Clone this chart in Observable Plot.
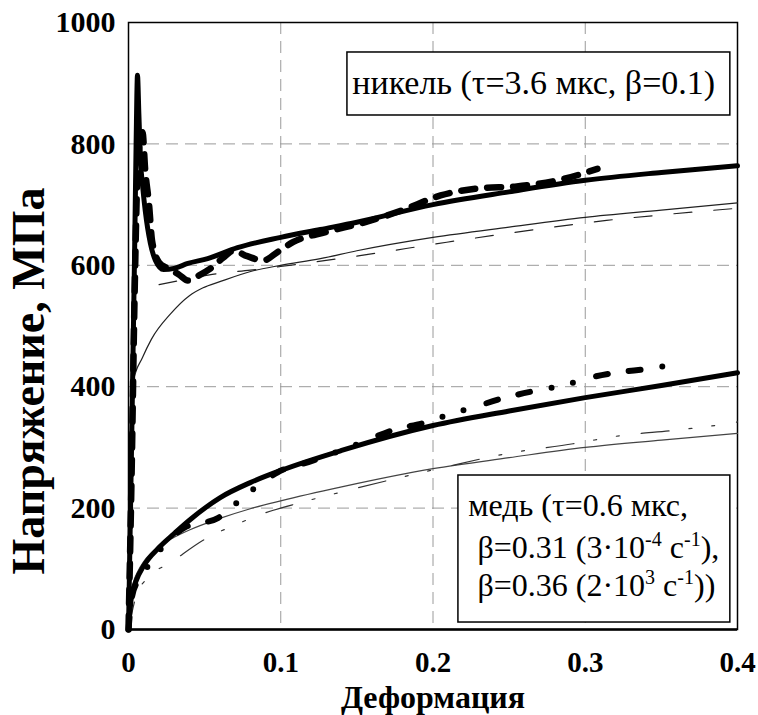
<!DOCTYPE html>
<html><head><meta charset="utf-8">
<script src="https://cdn.jsdelivr.net/npm/d3@7"></script>
<script src="https://cdn.jsdelivr.net/npm/@observablehq/plot@0.6"></script>
<style>
body{margin:0;background:#fff}
#chart svg, #chart svg text, #chart svg tspan{font-family:"Liberation Serif","Tinos","Times New Roman","DejaVu Serif",serif !important}
</style>
</head><body><div id="chart"></div>
<script>
// ---- axes ----
const xTicks = [0, 0.1, 0.2, 0.3, 0.4];
const xTickLabels = ["0", "0.1", "0.2", "0.3", "0.4"];
const yTicks = [0, 200, 400, 600, 800, 1000];
const yTickLabels = ["0", "200", "400", "600", "800", "1000"];
const xGrid = [0.1, 0.2, 0.3];
const yGrid = [200, 400, 600, 800];
const xLabel = "Деформация";
const yLabel = "Напряжение, МПа";
const niLegend = "никель (τ=3.6 мкс, β=0.1)";
// copper legend lines as [text, isSuperscript] segments
const cuLegend = [
  [["медь (τ=0.6 мкс,", false]],
  [["β=0.31 (3·10", false], ["-4", true], [" с", false], ["-1", true], ["),", false]],
  [["β=0.36 (2·10", false], ["3", true], [" с", false], ["-1", true], ["))", false]]
];

// ---- nickel: thick solid ----
const niThickX = [0, 0.002, 0.004, 0.005, 0.0059, 0.0068, 0.0079, 0.0095, 0.011, 0.0144, 0.0177, 0.023, 0.03, 0.039, 0.052, 0.0716, 0.1, 0.126, 0.15, 0.2, 0.25, 0.3, 0.35, 0.4];
const niThickY = [0, 300, 620, 800, 913, 850, 773, 725, 690, 636, 608, 593, 595, 603, 611, 629, 646, 659, 671, 700, 721, 740, 753, 764];
// ---- nickel: thick dashed (experiment) ----
const niExpX = [0, 0.002, 0.004, 0.006, 0.0075, 0.0092, 0.011, 0.0135, 0.0155, 0.02, 0.0256, 0.033, 0.039, 0.046, 0.054, 0.062, 0.069, 0.078, 0.0886, 0.098, 0.108, 0.13, 0.154, 0.179, 0.205, 0.231, 0.255, 0.282, 0.308];
const niExpY = [0, 250, 550, 760, 805, 819, 756, 700, 640, 605, 595, 585, 575, 583, 595, 612, 624, 615, 608, 622, 638, 655, 670, 690, 715, 727, 730, 740, 759];
// ---- nickel: thin solid ----
const niThinX = [0, 0.0015, 0.0033, 0.0092, 0.015, 0.0276, 0.04, 0.049, 0.06, 0.082, 0.1, 0.126, 0.15, 0.2, 0.25, 0.3, 0.35, 0.4];
const niThinY = [0, 380, 410, 448, 478, 520, 550, 563, 573, 591, 600, 611, 624, 646, 663, 679, 691, 703];
// ---- nickel: thin dashed ----
const niThinDashX = [0.02, 0.04, 0.058, 0.08, 0.1, 0.152, 0.209, 0.262, 0.314, 0.35, 0.4];
const niThinDashY = [568, 578, 586, 592, 598, 616, 638, 657, 674, 683, 694];

// ---- copper: thick solid ----
const cuThickX = [0, 0.002, 0.005, 0.01, 0.02, 0.03, 0.04, 0.06, 0.08, 0.1, 0.14, 0.2, 0.25, 0.3, 0.35, 0.4];
const cuThickY = [0, 55, 80, 105, 135, 158, 180, 217, 242, 262, 295, 336, 360, 382, 402, 423];
// ---- copper: thick dash-dot (experiment) ----
const cuExpX = [0, 0.002, 0.006, 0.0144, 0.023, 0.037, 0.059, 0.0735, 0.085, 0.098, 0.121, 0.156, 0.173, 0.195, 0.213, 0.2265, 0.246, 0.2686, 0.2856, 0.3, 0.32, 0.343, 0.361];
const cuExpY = [0, 50, 80, 109, 138, 168, 184, 214, 237, 259, 278, 311, 328, 341, 356, 366, 381, 394, 402, 413, 423, 430, 438];
// ---- copper: thin solid ----
const cuThinX = [0, 0.001, 0.003, 0.006, 0.01, 0.02, 0.03, 0.04, 0.06, 0.08, 0.1, 0.14, 0.2, 0.25, 0.3, 0.35, 0.4];
const cuThinY = [0, 40, 75, 95, 112, 137, 152, 164, 183, 199, 212, 235, 265, 283, 300, 312, 323];
// ---- copper: thin dash-dot ----
const cuThinDashX = [0, 0.005, 0.013, 0.0276, 0.049, 0.0735, 0.0886, 0.113, 0.139, 0.207, 0.249, 0.292, 0.325, 0.358, 0.393, 0.4];
const cuThinDashY = [0, 55, 86, 110, 147, 176, 191, 209, 226, 267, 290, 306, 320, 328, 339, 342];

const zip = (xs, ys) => xs.map((x, i) => ({x, y: ys[i]}));
const font = "Liberation Serif, Tinos, Times New Roman, DejaVu Serif, serif";
const cuPlain = cuLegend.map(line => line.map(s => s[0]).join(""));

const chart = Plot.plot({
  width: 758, height: 715,
  marginLeft: 128, marginRight: 21, marginTop: 22, marginBottom: 86,
  style: {fontFamily: font, background: "#fff", color: "#000"},
  x: {domain: [0, 0.4]},
  y: {domain: [0, 1000]},
  marks: [
    Plot.gridX(xGrid, {stroke: "#9a9a9a", strokeOpacity: 1, strokeDasharray: "12,7"}),
    Plot.gridY(yGrid, {stroke: "#9a9a9a", strokeOpacity: 1, strokeDasharray: "12,7"}),
    Plot.axisX(xTicks, {tickSize: 0, tickPadding: 22, tickFormat: d => xTickLabels[xTicks.indexOf(d)], fontSize: 29, fontWeight: "bold", fontFamily: font, label: null}),
    Plot.axisY(yTicks, {tickSize: 0, tickPadding: 13, tickFormat: d => yTickLabels[yTicks.indexOf(d)], fontSize: 30, fontWeight: "bold", fontFamily: font, label: null}),
    Plot.frame({stroke: "#000", strokeWidth: 1.5}),
    Plot.ruleY([0], {stroke: "#000", strokeWidth: 2.5}),
    // thin lines
    Plot.line(zip(niThinX, niThinY), {x: "x", y: "y", stroke: "#222", strokeWidth: 1.2, curve: "monotone-x"}),
    Plot.line(zip(niThinDashX, niThinDashY), {x: "x", y: "y", stroke: "#222", strokeWidth: 1.2, strokeDasharray: "18,22", curve: "monotone-x"}),
    Plot.line(zip(cuThinX, cuThinY), {x: "x", y: "y", stroke: "#444", strokeWidth: 1.2, curve: "monotone-x"}),
    Plot.line(zip(cuThinDashX, cuThinDashY), {x: "x", y: "y", stroke: "#333", strokeWidth: 1.2, strokeDasharray: "28,20,3,20,3,22", curve: "monotone-x"}),
    // thick lines
    Plot.line(zip(cuThickX, cuThickY), {x: "x", y: "y", stroke: "#000", strokeWidth: 5, curve: "monotone-x"}),
    Plot.line(zip(cuExpX, cuExpY), {x: "x", y: "y", stroke: "#000", strokeWidth: 6, strokeLinecap: "round", strokeDasharray: "12,21,12,22,0,22,0,24", curve: "monotone-x"}),
    Plot.line(zip(niThickX, niThickY), {x: "x", y: "y", stroke: "#000", strokeWidth: 5, curve: "monotone-x"}),
    Plot.line(zip(niExpX, niExpY), {x: "x", y: "y", stroke: "#000", strokeWidth: 6.5, strokeLinecap: "round", strokeDasharray: "14,12", curve: "monotone-x"}),
    // legend boxes
    Plot.rect([0], {x1: 0.1438, x2: 0.3953, y1: 846.8, y2: 950.6, fill: "#fff", stroke: "#000", strokeWidth: 1.5}),
    Plot.rect([0], {x1: 0.2167, x2: 0.3953, y1: 11.5, y2: 253.7, fill: "#fff", stroke: "#000", strokeWidth: 1.5}),
    Plot.text([niLegend], {x: 0.147, y: 883, text: d => d, textAnchor: "start", lineAnchor: "bottom", fontSize: 34, fontFamily: font, fill: "#000"}),
    Plot.text([cuPlain[0]], {x: 0.2232, y: 187.8, text: d => d, textAnchor: "start", lineAnchor: "bottom", fontSize: 32, fontFamily: font, fill: "#000"}),
    Plot.text(cuPlain.slice(1), {x: 0.2292, y: (d, i) => [118.6, 56][i], text: d => d, textAnchor: "start", lineAnchor: "bottom", fontSize: 32, fontFamily: font, fill: "#000"}),
    // axis titles
    Plot.text([xLabel], {frameAnchor: "bottom", dy: 78, text: d => d, textAnchor: "middle", lineAnchor: "bottom", fontSize: 32, fontWeight: "bold", fontFamily: font, fill: "#000"}),
    Plot.text([yLabel], {frameAnchor: "left", dx: -85, dy: 55, rotate: -90, text: d => d, textAnchor: "middle", lineAnchor: "bottom", fontSize: 46, fontWeight: "bold", fontFamily: font, fill: "#000"})
  ]
});

// rebuild copper legend lines with real superscript tspans
d3.select(chart).selectAll("text").each(function () {
  const idx = cuPlain.indexOf(this.textContent);
  if (idx < 1) return;
  const sel = d3.select(this);
  sel.text(null);
  let raised = false;
  for (const [s, sup] of cuLegend[idx]) {
    const t = sel.append("tspan").text(s);
    if (sup && !raised) { t.attr("dy", -12).attr("font-size", 20); raised = true; }
    else if (sup) { t.attr("font-size", 20); }
    else if (raised) { t.attr("dy", 12); raised = false; }
  }
});

document.getElementById("chart").appendChild(chart);
</script>
</body></html>
